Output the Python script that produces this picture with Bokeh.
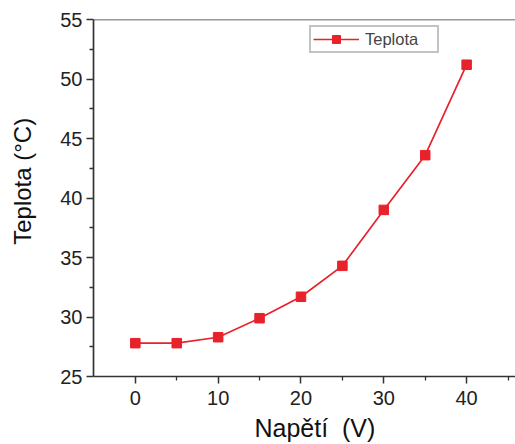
from bokeh.plotting import figure
from bokeh.models import Range1d, Span, Legend, LegendItem, FixedTicker
from bokeh.embed import file_html
from bokeh.resources import INLINE

napeti = [0, 5, 10, 15, 20, 25, 30, 35, 40]
teplota = [27.8, 27.8, 28.3, 29.9, 31.7, 34.3, 39.0, 43.6, 51.2]
x_ticks = [0, 10, 20, 30, 40]
y_ticks = [25, 30, 35, 40, 45, 50, 55]
x_title = "\u00a0\u00a0\u00a0Napětí\u00a0 (V)"
y_title = "\u00a0\u00a0\u00a0\u00a0\u00a0Teplota (°C)"

RED = "#e8212b"
FONT = "Liberation Sans"

p = figure(width=515, height=444, output_backend="svg", toolbar_location=None,
           x_range=Range1d(-5.05, 45.9), y_range=Range1d(25, 55),
           min_border_left=93, min_border_right=0, min_border_top=19, min_border_bottom=67)
p.outline_line_color = None
p.grid.visible = False
p.background_fill_color = "white"
p.border_fill_color = "white"

line = p.line(napeti, teplota, line_color=RED, line_width=1.7)
sq = p.scatter(napeti, teplota, marker="square", size=9.5, fill_color=RED, line_color=RED)

p.add_layout(Span(location=55, dimension="width", line_color="#333333", line_width=1.6))

for ax in (p.xaxis[0], p.yaxis[0]):
    ax.axis_line_width = 1.7
    ax.axis_line_color = "#333333"
    ax.major_tick_line_color = "#333333"
    ax.minor_tick_line_color = "#333333"
    ax.major_tick_line_width = 1.5
    ax.minor_tick_line_width = 1.3
    ax.major_tick_in = 0
    ax.major_tick_out = 7
    ax.minor_tick_in = 0
    ax.minor_tick_out = 4
    ax.major_label_text_font = FONT
    ax.major_label_text_font_size = "20px"
    ax.major_label_text_color = "#222222"
    ax.axis_label_text_font = FONT
    ax.axis_label_text_font_style = "normal"
    ax.axis_label_text_color = "#111111"

p.xaxis[0].ticker = FixedTicker(ticks=x_ticks, minor_ticks=[5, 15, 25, 35, 45])
p.yaxis[0].ticker = FixedTicker(ticks=y_ticks, minor_ticks=[27.5, 32.5, 37.5, 42.5, 47.5, 52.5])
p.xaxis[0].major_label_standoff = 7
p.yaxis[0].major_label_standoff = 4
p.xaxis[0].axis_label = x_title
p.yaxis[0].axis_label = y_title
p.xaxis[0].axis_label_text_font_size = "25px"
p.yaxis[0].axis_label_text_font_size = "24px"
p.xaxis[0].axis_label_standoff = 6
p.yaxis[0].axis_label_standoff = 21

legend = Legend(items=[LegendItem(label="Teplota", renderers=[line, sq])],
                location=(216, 323), orientation="vertical",
                border_line_color="#888888", border_line_width=2,
                label_text_font=FONT, label_text_font_size="16.5px",
                glyph_width=46, glyph_height=20, label_height=14, label_width=70,
                padding=2, margin=0, label_standoff=6, spacing=0)
p.add_layout(legend)

open("out.html", "w").write(file_html(p, INLINE))
